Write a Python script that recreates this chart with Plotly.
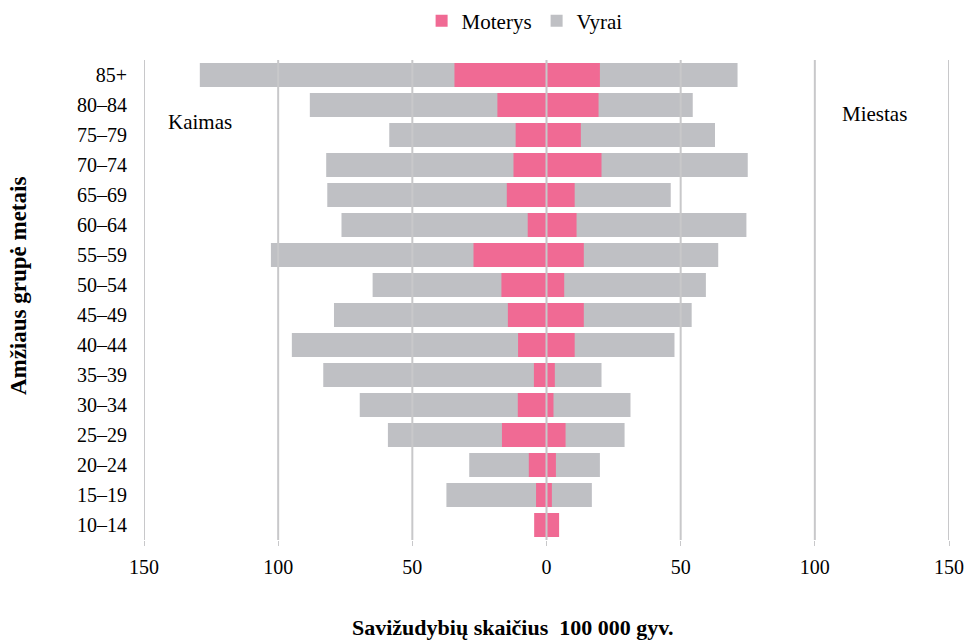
import plotly.graph_objects as go

# Age groups, listed top to bottom
age_groups = ["85+", "80–84", "75–79", "70–74", "65–69", "60–64", "55–59", "50–54",
              "45–49", "40–44", "35–39", "30–34", "25–29", "20–24", "15–19", "10–14"]

# Suicides per 100 000 population: rural (Kaimas) and urban (Miestas)
rural_men = [129.2, 88.2, 58.6, 82.1, 81.7, 76.4, 102.7, 64.8,
             79.2, 94.9, 83.2, 69.6, 59.1, 28.8, 37.3, 0]
rural_women = [34.3, 18.3, 11.5, 12.3, 14.8, 7.0, 27.2, 16.8,
               14.4, 10.6, 4.7, 10.7, 16.6, 6.6, 3.9, 4.6]
urban_men = [71.2, 54.5, 62.8, 75.0, 46.3, 74.5, 64.0, 59.4,
             54.1, 47.7, 20.5, 31.3, 29.1, 19.9, 16.9, 0]
urban_women = [19.9, 19.4, 12.8, 20.5, 10.5, 11.2, 13.9, 6.6,
               13.9, 10.5, 3.1, 2.6, 7.1, 3.5, 2.0, 4.7]

tick_values = [-150, -100, -50, 0, 50, 100, 150]
tick_labels = [str(abs(v)) for v in tick_values]

PINK = "#F06A94"
GREY = "#BFC0C4"
GRID = "#C8C8CA"
FONT = "Liberation Serif"


def serif(size, bold=False):
    return dict(family=FONT, size=size, color="#000000",
                weight="bold" if bold else "normal")


fig = go.Figure()

# Men drawn first so the women's bars sit on top
fig.add_bar(y=age_groups, x=[-v for v in rural_men], orientation="h",
            marker_color=GREY, name="Vyrai", legendgroup="m", legendrank=2)
fig.add_bar(y=age_groups, x=urban_men, orientation="h",
            marker_color=GREY, name="Vyrai", legendgroup="m", showlegend=False)
fig.add_bar(y=age_groups, x=[-v for v in rural_women], orientation="h",
            marker_color=PINK, name="Moterys", legendgroup="f", legendrank=1)
fig.add_bar(y=age_groups, x=urban_women, orientation="h",
            marker_color=PINK, name="Moterys", legendgroup="f", showlegend=False)

# Vertical grid lines drawn above the bars
for v in tick_values:
    fig.add_shape(type="line", xref="x", yref="paper", x0=v, x1=v, y0=0, y1=1,
                  line=dict(color=GRID, width=2), layer="above")

fig.update_layout(
    template="none",
    width=967, height=642,
    margin=dict(l=144, r=18, t=60, b=102, autoexpand=False),
    barmode="overlay", bargap=0.2,
    plot_bgcolor="white", paper_bgcolor="white",
    font=serif(20),
    legend=dict(orientation="h", xref="container", yref="container",
                x=0.436, xanchor="left", y=1 - 21 / 642, yanchor="middle",
                font=serif(21), itemclick=False, traceorder="normal",
                bgcolor="rgba(0,0,0,0)"),
    xaxis=dict(range=[-150, 150], tickvals=tick_values, ticktext=tick_labels,
               showgrid=False, zeroline=False, showline=False, automargin=False,
               ticks="outside", ticklen=5, tickcolor=GRID, tickwidth=1,
               ticklabelstandoff=4, tickfont=serif(20)),
    yaxis=dict(autorange="reversed", showgrid=False, zeroline=False, showline=False,
               automargin=False, ticks="", ticklabelstandoff=16, tickfont=serif(20)),
    annotations=[
        dict(text="Kaimas", xref="paper", yref="paper", x=0.069, y=0.870,
             xanchor="center", yanchor="middle", showarrow=False, font=serif(21)),
        dict(text="Miestas", xref="paper", yref="paper", x=0.908, y=0.887,
             xanchor="center", yanchor="middle", showarrow=False, font=serif(21)),
        dict(text="<b>Savižudybių skaičius\u00a0 100\u00a0000 gyv.</b>",
             xref="paper", yref="paper", x=(513 - 144) / 805, y=-(627 - 540) / 480,
             xanchor="center", yanchor="middle", showarrow=False, font=serif(22, True)),
        dict(text="<b>Amžiaus grupė metais</b>", xref="paper", yref="paper",
             x=(18 - 144) / 805, y=0.531, xanchor="center", yanchor="middle",
             textangle=-90, showarrow=False, font=serif(23, True)),
    ],
)

fig.write_html("out.html")
